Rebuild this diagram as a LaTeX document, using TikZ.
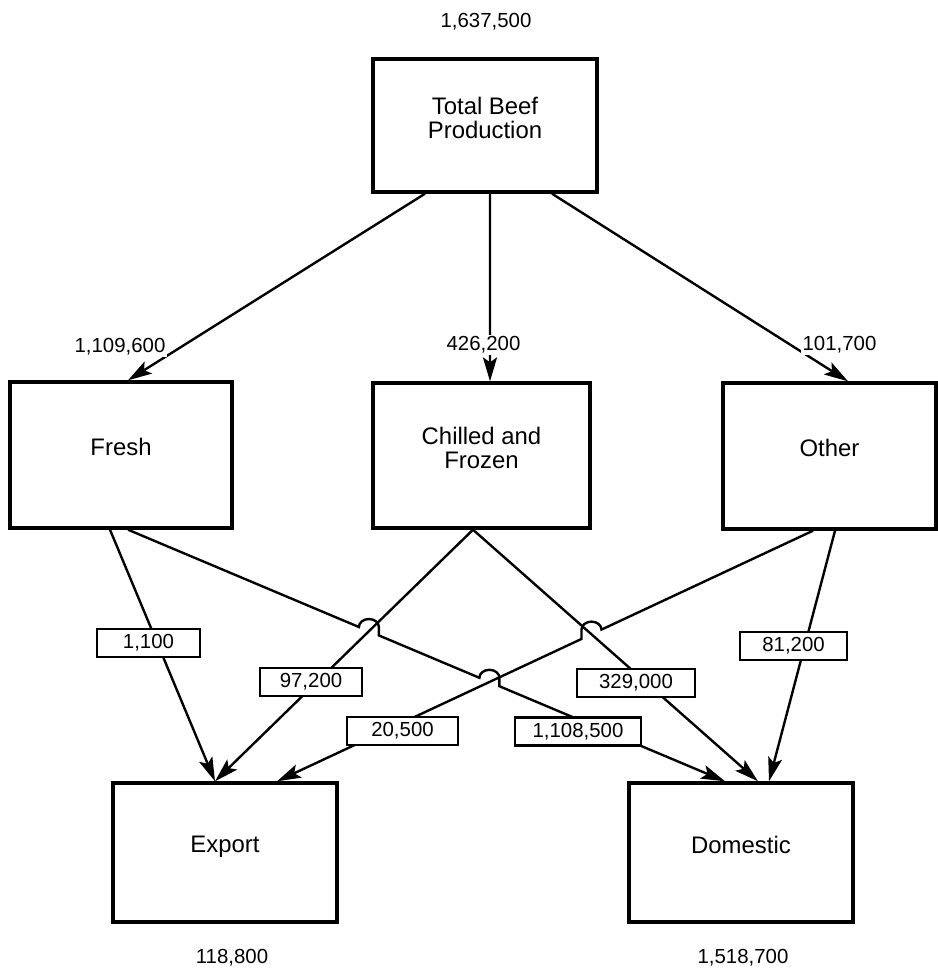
\documentclass[tikz,border=0pt]{standalone}
\usepackage{fontspec}
\setmainfont{Liberation Sans}
\usetikzlibrary{arrows.meta,calc,intersections}

% half width of a line hop, in pt (10 units of 0.025cm)
\def\hw{7.11pt}

\begin{document}
\begin{tikzpicture}[x=0.025cm, y=-0.025cm,
  box/.style={draw, line width=2.4pt, align=center, inner sep=0pt,
    text depth=11pt, font=\fontsize{17}{17.5}\selectfont},
  flow/.style={line width=1.7pt, -{Stealth[length=17pt, width=10pt, inset=3.5pt]}},
  qty/.style={draw, fill=white, line width=1.8pt, inner sep=0pt,
    minimum height=0.7cm, font=\fontsize{14.5}{17}\selectfont},
  amount/.style={fill=white, inner sep=1pt, font=\fontsize{14.5}{17}\selectfont}]

\useasboundingbox (0,0) rectangle (938,972);

% stages
\node[box, minimum width=5.6cm,   minimum height=3.325cm] (total)    at (485,125.5) {Total Beef\\Production};
\node[box, minimum width=5.55cm,  minimum height=3.65cm]  (fresh)    at (121,455)   {Fresh};
\node[box, minimum width=5.425cm, minimum height=3.625cm] (chilled)  at (481.5,455.5) {Chilled and\\Frozen};
\node[box, minimum width=5.325cm, minimum height=3.65cm]  (other)    at (829.5,456) {Other};
\node[box, minimum width=5.6cm,   minimum height=3.475cm] (export)   at (225,852.5) {Export};
\node[box, minimum width=5.6cm,   minimum height=3.475cm] (domestic) at (741,852.5) {Domestic};

% production split
\draw[flow] ($(total.south)+(-60,0)$) -- ($(fresh.north)+(7,0)$);
\draw[flow] ($(total.south)+(5,0)$)   -- ($(chilled.north)+(8.5,0)$);
\draw[flow] ($(total.south)+(67,0)$)  -- ($(other.north)+(18.5,0)$);

% end points of the lower flows
\coordinate (fe0) at ($(fresh.south)+(-11,0)$);
\coordinate (fe1) at ($(export.north)+(-10,0)$);
\coordinate (fd0) at ($(fresh.south)+(7,0)$);
\coordinate (fd1) at ($(domestic.north)+(-16,0)$);
\coordinate (ce0) at ($(chilled.south)+(-8.5,0)$);
\coordinate (ce1) at ($(export.north)+(-10,0)$);
\coordinate (cd0) at ($(chilled.south)+(-8.5,0)$);
\coordinate (cd1) at ($(domestic.north)+(17,0)$);
\coordinate (oe0) at ($(other.south)+(-16.5,0)$);
\coordinate (oe1) at ($(export.north)+(52,0)$);
\coordinate (od0) at ($(other.south)+(5.5,0)$);
\coordinate (od1) at ($(domestic.north)+(28,0)$);

% crossing points
\path[name path=pfd] (fd0) -- (fd1);
\path[name path=pce] (ce0) -- (ce1);
\path[name path=poe] (oe0) -- (oe1);
\path[name path=pcd] (cd0) -- (cd1);
\path[name intersections={of=pfd and pce, by=h1}];
\path[name intersections={of=pfd and poe, by=h2}];
\path[name intersections={of=poe and pcd, by=h3}];

% straight flows
\draw[flow] (fe0) -- (fe1);
\draw[flow] (ce0) -- (ce1);
\draw[flow] (cd0) -- (cd1);
\draw[flow] (od0) -- (od1);

% fresh to domestic, hopping over two lines
\draw[flow] let \p1=(fd0), \p2=(fd1), \p3=(h1), \p4=(h2),
    \n1={scalar((\x3-\hw-\x1)/(\x2-\x1))}, \n2={scalar((\x3+\hw-\x1)/(\x2-\x1))},
    \n3={scalar((\x4-\hw-\x1)/(\x2-\x1))}, \n4={scalar((\x4+\hw-\x1)/(\x2-\x1))}
  in (fd0) -- ($(fd0)!\n1!(fd1)$)
     arc[start angle=180, end angle=360, x radius=10, y radius=8]
     -- ($(fd0)!\n2!(fd1)$) -- ($(fd0)!\n3!(fd1)$)
     arc[start angle=180, end angle=360, x radius=10, y radius=8]
     -- ($(fd0)!\n4!(fd1)$) -- (fd1);

% other to export, hopping over chilled to domestic
\draw[flow] let \p1=(oe0), \p2=(oe1), \p3=(h3),
    \n1={scalar((\x3+\hw-\x1)/(\x2-\x1))}, \n2={scalar((\x3-\hw-\x1)/(\x2-\x1))}
  in (oe0) -- ($(oe0)!\n1!(oe1)$)
     arc[start angle=0, end angle=-180, x radius=10, y radius=8]
     -- ($(oe0)!\n2!(oe1)$) -- (oe1);

% quantities on the flows
\node[qty, minimum width=2.575cm] (q1) at (148.5,643) {1,100};
\node[qty, minimum width=2.55cm]  (q2) at (311,682)   {97,200};
\node[qty, minimum width=2.775cm] (q3) at (402.5,731) {20,500};
\node[qty, minimum width=3.15cm]  (q4) at (578,731.5) {1,108,500};
\node[qty, minimum width=2.95cm]  (q5) at (636,683)   {329,000};
\node[qty, minimum width=2.675cm] (q6) at (793.5,646) {81,200};

% stage totals
\node[amount] (vtotal)    at (486,22)    {1,637,500};
\node[amount] (vfresh)    at (120,347)   {1,109,600};
\node[amount] (vchilled)  at (483.5,345) {426,200};
\node[amount] (vother)    at (839.5,345) {101,700};
\node[amount] (vexport)   at (232,958)   {118,800};
\node[amount] (vdomestic) at (743,958)   {1,518,700};
\end{tikzpicture}
\end{document}
